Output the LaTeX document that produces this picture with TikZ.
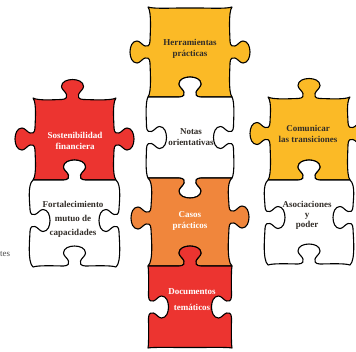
\documentclass[tikz,border=0pt]{standalone}
\usepackage{fontspec}
\setmainfont{Liberation Serif}
\definecolor{yell}{RGB}{251,186,38}
\definecolor{oran}{RGB}{240,134,60}
\definecolor{redp}{RGB}{236,52,48}
\definecolor{txtdark}{RGB}{50,45,40}
% one side of a piece: centre x, centre y, angle, half length, knob (1 out, -1 in, 0 none), bow, knob shift
\newcommand\side[7]{%
 .. controls ([shift={(#1,#2)},rotate=#3]{5-#4},{-(#6)}) and ([shift={(#1,#2)},rotate=#3]{#7-16},{-0.5*(#6)})
 .. ([shift={(#1,#2)},rotate=#3]{#7-11},{-0.5*(#6)})
 .. controls ([shift={(#1,#2)},rotate=#3]{#7-6},{-0.5*(#6)}) and ([shift={(#1,#2)},rotate=#3]{#7-5},{-0.5*(#6)+3*(#5)})
 .. ([shift={(#1,#2)},rotate=#3]{#7-6},{-0.5*(#6)+5*(#5)})
 .. controls ([shift={(#1,#2)},rotate=#3]{#7-7},{-0.5*(#6)+8*(#5)}) and ([shift={(#1,#2)},rotate=#3]{#7-11},{-0.5*(#6)+10*(#5)})
 .. ([shift={(#1,#2)},rotate=#3]{#7-11},{-0.5*(#6)+13*(#5)})
 .. controls ([shift={(#1,#2)},rotate=#3]{#7-11},{-0.5*(#6)+18*(#5)}) and ([shift={(#1,#2)},rotate=#3]{#7-5},{-0.5*(#6)+20*(#5)})
 .. ([shift={(#1,#2)},rotate=#3]{#7+0},{-0.5*(#6)+20*(#5)})
 .. controls ([shift={(#1,#2)},rotate=#3]{#7+5},{-0.5*(#6)+20*(#5)}) and ([shift={(#1,#2)},rotate=#3]{#7+11},{-0.5*(#6)+18*(#5)})
 .. ([shift={(#1,#2)},rotate=#3]{#7+11},{-0.5*(#6)+13*(#5)})
 .. controls ([shift={(#1,#2)},rotate=#3]{#7+11},{-0.5*(#6)+10*(#5)}) and ([shift={(#1,#2)},rotate=#3]{#7+7},{-0.5*(#6)+8*(#5)})
 .. ([shift={(#1,#2)},rotate=#3]{#7+6},{-0.5*(#6)+5*(#5)})
 .. controls ([shift={(#1,#2)},rotate=#3]{#7+5},{-0.5*(#6)+3*(#5)}) and ([shift={(#1,#2)},rotate=#3]{#7+6},{-0.5*(#6)})
 .. ([shift={(#1,#2)},rotate=#3]{#7+11},{-0.5*(#6)})
 .. controls ([shift={(#1,#2)},rotate=#3]{#7+16},{-0.5*(#6)}) and ([shift={(#1,#2)},rotate=#3]{#4-5},{-(#6)})
 .. ([shift={(#1,#2)},rotate=#3]#4,0)}

\begin{document}
\begin{tikzpicture}[line cap=round,line join=round,x=1pt,y=1pt,
  piece/.style={draw=black,line width=1.1pt},
  lbl/.style={font=\bfseries\fontsize{9}{11}\selectfont,align=center,inner sep=0pt},
  dark/.style={lbl,text=txtdark},
  light/.style={lbl,text=white}]
\useasboundingbox (0,0) rectangle (356,-351);
% centre column
\draw[piece,fill=yell] (148,-7) \side{190}{-7}{0}{42}{0}{2}{0} \side{232}{-52}{-90}{45}{1}{4}{0}
  \side{190}{-97}{180}{42}{-1}{0}{0} \side{148}{-52}{90}{45}{1}{4}{0} -- cycle;
\draw[piece,fill=white] (148,-97) \side{190}{-97}{0}{42}{1}{0}{0} \side{232}{-137.5}{-90}{40.5}{-1}{-3}{0}
  \side{190}{-178}{180}{42}{1}{0}{0} \side{148}{-137.5}{90}{40.5}{-1}{-3}{0} -- cycle;
\draw[piece,fill=oran] (148,-178) \side{190}{-178}{0}{42}{-1}{0}{0} \side{232}{-222}{-90}{44}{1}{6}{-5}
  \side{190}{-266}{180}{42}{-1}{0}{0} \side{148}{-222}{90}{44}{1}{6}{4} -- cycle;
\draw[piece,fill=redp] (148,-266) \side{190}{-266}{0}{42}{1}{0}{0} \side{232}{-307}{-90}{41}{-1}{1}{0}
  \side{190}{-348}{180}{42}{0}{1}{0} \side{148}{-307}{90}{41}{-1}{1}{0} -- cycle;
% left column
\draw[piece,fill=redp] (33,-98) \side{74.5}{-98}{0}{41.5}{1}{3}{-2} \side{116}{-139}{-90}{41}{1}{4}{0}
  \side{74.5}{-180}{180}{41.5}{-1}{0}{0} \side{33}{-139}{90}{41}{1}{4}{0} -- cycle;
\draw[piece,fill=white] (33,-180) \side{74.5}{-180}{0}{41.5}{1}{0}{0} \side{116}{-223.5}{-90}{43.5}{-1}{-6}{-3}
  \side{74.5}{-267}{180}{41.5}{-1}{2}{0} \side{33}{-223.5}{90}{43.5}{-1}{-6}{3} -- cycle;
% right column
\draw[piece,fill=yell] (268,-97) \side{309}{-97}{0}{41}{1}{3}{0} \side{350}{-138.5}{-90}{41.5}{1}{4}{-5}
  \side{309}{-180}{180}{41}{-1}{0}{0} \side{268}{-138.5}{90}{41.5}{1}{4}{5} -- cycle;
\draw[piece,fill=white] (268,-180) \side{309}{-180}{0}{41}{1}{0}{0} \side{350}{-222.5}{-90}{42.5}{-1}{-6}{-5}
  \side{309}{-265}{180}{41}{-1}{2}{0} \side{268}{-222.5}{90}{42.5}{-1}{-6}{5} -- cycle;
% labels
\node[dark] (herr) at (190,-49) {Herramientas\\prácticas};
\node[dark] (notas) at (191,-137) {Notas\\orientativas};
\node[light] (casos) at (190,-221) {Casos\\prácticos};
\node[light] (docs) at (192,-300) {Documentos\\[5pt]temáticos};
\node[light] (sost) at (75,-141) {Sostenibilidad\\financiera};
\node[dark] (fort) at (73,-219) {Fortalecimiento\\[3pt]mutuo de\\[3pt]capacidades};
\node[dark] (comu) at (308,-134) {Comunicar\\las transiciones};
\node[dark] (asoc) at (307,-215) {Asociaciones\\[-1pt]y\\[-1pt]poder};
\node[anchor=west,inner sep=0pt,text=black!70,font=\fontsize{9}{11}\selectfont] (tes) at (0,-254) {tes};
\node[anchor=east,inner sep=0pt,text=black!70,font=\fontsize{8}{10}\selectfont] (frag) at (6,2) {e.};
\end{tikzpicture}
\end{document}
